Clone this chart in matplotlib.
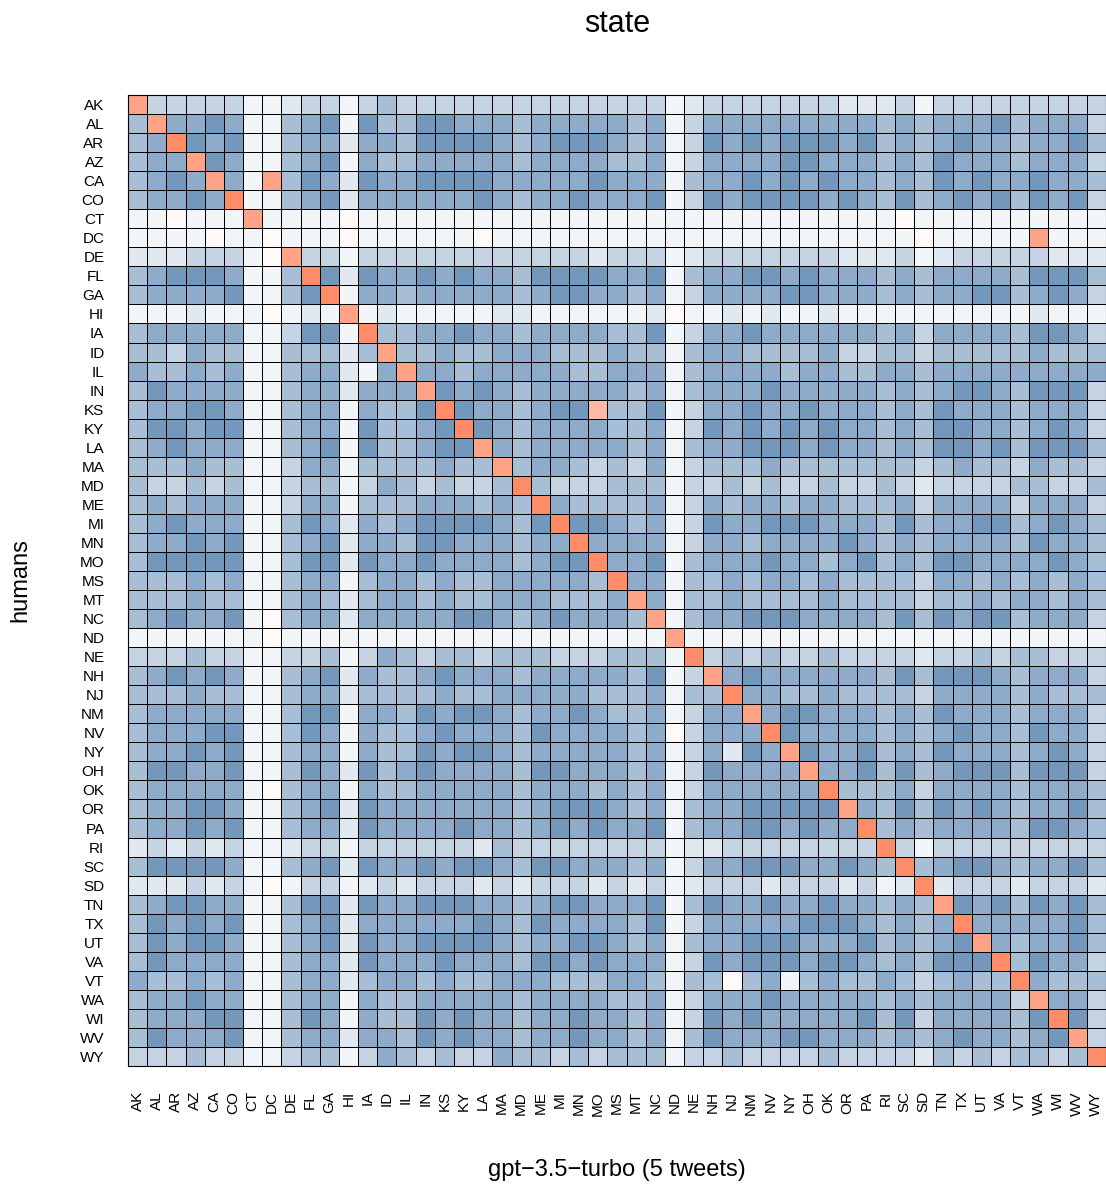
import numpy as np
import matplotlib
matplotlib.use("Agg")
import matplotlib.pyplot as plt
from matplotlib.colors import LinearSegmentedColormap

plt.rcParams['font.family'] = ['Liberation Sans', 'DejaVu Sans']

states = ["AK", "AL", "AR", "AZ", "CA", "CO", "CT", "DC", "DE", "FL", "GA", "HI",
          "IA", "ID", "IL", "IN", "KS", "KY", "LA", "MA", "MD", "ME", "MI", "MN",
          "MO", "MS", "MT", "NC", "ND", "NE", "NH", "NJ", "NM", "NV", "NY", "OH",
          "OK", "OR", "PA", "RI", "SC", "SD", "TN", "TX", "UT", "VA", "VT", "WA",
          "WI", "WV", "WY"]

# cell levels, one string per row (humans), columns = gpt-3.5-turbo
# 0..5 = white -> dark blue, a..d = faint -> strong salmon
levels = [
    "c2222200122023222" "22222222222012222" "22211120222222222",  # AK
    "3c445400345053355" "44434444434024444" "44444343444534442",  # AL
    "34d54500344144355" "55434555434025454" "55545343454434453",  # AR
    "344c5400345043344" "44434444334024444" "55444343544434442",  # AZ
    "3454c40c354154455" "55444445444034454" "54544343545445443",  # CA
    "34454d00345144444" "45434454445025455" "55454353454535452",  # CO
    "00a000c0000a00000" "00000000000000000" "000000a0000000000",  # CT
    "0000a00a000a00000" "0a000000000000000" "0000000a00000c000",  # DC
    "1112220ac22022222" "22222221222012222" "22211120122222111",  # DE
    "345554003d5154454" "54435555445034455" "45444343444435553",  # FL
    "3444450035d044344" "44434554434024444" "55444343445534542",  # GA
    "0001000a010c01000" "00110000001a00101" "00100000000001000",  # HI
    "344444002550d3344" "54434444335024454" "44444342444435542",  # IA
    "3324330033313c334" "33444333433034433" "33422332333334333",  # ID
    "43343400344104c44" "34444433444034444" "34433443444444444",  # IL
    "354444003441444c5" "45434444434034445" "44444343455435552",  # IN
    "3445540034404335d" "5443455b335024454" "45444343544434442",  # KS
    "35545500344053345" "d5434444334025454" "54544343554434542",  # KY
    "34544400345053345" "5c434444434034455" "54544343554535553",  # LA
    "33343300244033334" "33c34432324023334" "33333332343324332",  # MA
    "32232300233024323" "223d3222333022323" "22322321222233223",  # MD
    "34344400244033344" "4343d433334024344" "34433342444424442",  # ME
    "34544400354143455" "55435d55434025445" "55444353445534543",  # MI
    "34454500345144355" "444344d4444024434" "44454343444435443",  # MN
    "35555500355154454" "4443455d445034445" "44345343554444543",  # MO
    "33343400344034434" "33444443d44033434" "43433332443434343",  # MS
    "33343300343134434" "334443334c4033433" "33433332334344343",  # MT
    "3454450a344144444" "5543454443c034455" "54444353545534442",  # NC
    "0000000a000000000" "00000000000c00000" "00000000000000000",  # ND
    "22232200223024323" "323332223330d2323" "22322221223233222",  # NE
    "34545400345143345" "4443444443502c454" "44444353555434442",  # NH
    "33343300344133334" "33444443334033d44" "33433332444434333",  # NJ
    "34444400355044354" "554344543340244c4" "55444343544434442",  # NM
    "34445500354043345" "44435444434a2444d" "54444343454435442",  # NV
    "34454500344043354" "55434444434024154" "c5445343544434542",  # NY
    "35544500354153454" "44435544434025444" "4c445353455535552",  # OH
    "3444440a344043344" "44434443434024444" "44d33342444434443",  # OK
    "34455400345154444" "44434555434034455" "555c4353545434453",  # OR
    "34454500344154444" "54434545445034455" "4544d343444435543",  # PA
    "12121200122022222" "21322222222011222" "22222d20222222222",  # RI
    "35555400345154454" "55435544434024455" "544543d3455434453",  # SC
    "1112120a022012122" "21212221212012221" "2221201d122212221",  # SD
    "34554400355154455" "54434554445035445" "44544343c54535453",  # TN
    "35454500345144444" "45435444435024444" "455543434d4444453",  # TX
    "35455400345154455" "55434455434034455" "5444534345c434453",  # UT
    "35444400344154445" "44435545444025455" "54554343555d35442",  # VA
    "43343400344134434" "33444333443033a34" "034334323433d4333",  # VT
    "34454400344043344" "44434444334024445" "4444434344442c442",  # WA
    "34445500354043354" "54434454434025454" "44445352444435d52",  # WI
    "35444500344144354" "54434454434035444" "554443434544345c2",  # WV
    "22232200233024323" "22433232333022322" "2232222132323323d",  # WY
]

code_value = {"0": -0.09, "1": -0.22, "2": -0.42, "3": -0.62, "4": -0.81, "5": -1.0,
              "a": 0.05, "b": 0.6, "c": 0.8, "d": 1.0}

for name, row in zip(states, levels):
    assert len(row) == len(states), (name, len(row))

data = np.array([[code_value[ch] for ch in row] for row in levels])

cmap = LinearSegmentedColormap.from_list(
    "bwr_soft", [(0.0, "#7497bc"), (0.5, "#ffffff"), (1.0, "#ff8c69")])

fig = plt.figure(figsize=(11.06, 11.89), dpi=100)
ax = fig.add_axes([128 / 1106, 1 - 1066 / 1189, 978 / 1106, 971 / 1189])

n = len(states)
ax.pcolormesh(np.arange(n + 1), np.arange(n + 1), data, cmap=cmap, vmin=-1, vmax=1,
              edgecolors="black", linewidth=0.7)
ax.set_xlim(0, n)
ax.set_ylim(n, 0)

ax.set_xticks(np.arange(n) + 0.5)
ax.set_xticklabels(states, rotation=90, fontsize=11, va="top")
ax.set_yticks(np.arange(n) + 0.5)
ax.set_yticklabels(states, fontsize=11)
ax.tick_params(axis="x", length=0, pad=18)
ax.tick_params(axis="y", length=0, pad=17)
for s in ax.spines.values():
    s.set_linewidth(0.8)

fig.text(617 / 1106, 1 - 24 / 1189, "state", ha="center", va="center", fontsize=22)
fig.text(617 / 1106, 1 - 1170 / 1189, "gpt\u22123.5\u2212turbo (5 tweets)",
         ha="center", va="center", fontsize=17)
fig.text(20 / 1106, 1 - 580 / 1189, "humans", ha="center", va="center",
         rotation=90, fontsize=17)

fig.savefig("out.png", dpi=100)
